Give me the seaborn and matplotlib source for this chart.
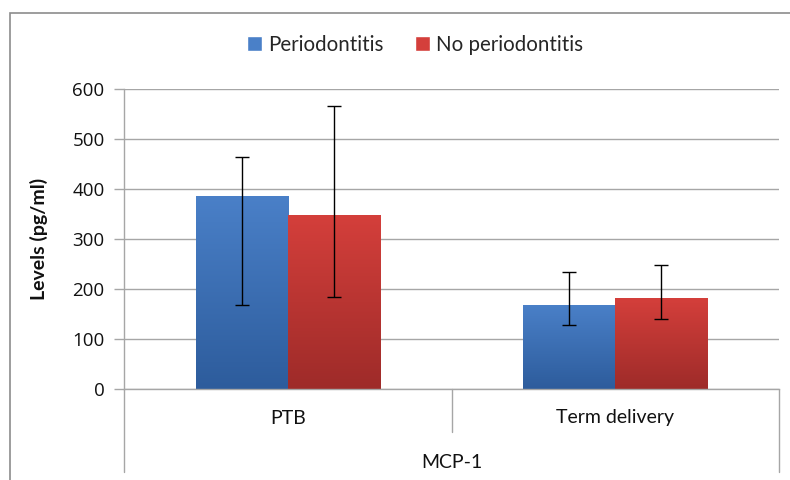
import numpy as np
import pandas as pd
import matplotlib
matplotlib.use("Agg")
import matplotlib.pyplot as plt
import seaborn as sns
from matplotlib.patches import Rectangle
from matplotlib.colors import LinearSegmentedColormap
from matplotlib.lines import Line2D

categories = ["PTB", "Term delivery"]
series = ["Periodontitis", "No periodontitis"]
means_perio = [387, 169]
means_noperio = [348, 182]
err_low_perio = [168, 129]
err_high_perio = [465, 234]
err_low_noperio = [185, 140]
err_high_noperio = [567, 248]
group_label = "MCP-1"
y_ticks = [0, 100, 200, 300, 400, 500, 600]

sns.set_theme(style="white")
plt.rcParams['font.family'] = ['Open Sans', 'DejaVu Sans']
calib = ['Lato', 'DejaVu Sans']

df = pd.DataFrame({
    "category": categories * 2,
    "series": [series[0]] * 2 + [series[1]] * 2,
    "value": means_perio + means_noperio,
})

W, H = 790, 480
fig = plt.figure(figsize=(W / 100, H / 100), dpi=100)
ax = fig.add_axes([124 / W, 1 - 389 / H, (779 - 124) / W, 300 / H])

top_colors = {"Periodontitis": "#4a80c8", "No periodontitis": "#d43f3b"}
bot_colors = {"Periodontitis": "#2d5c9c", "No periodontitis": "#9e2b29"}

sns.barplot(data=df, x="category", y="value", hue="series", order=categories,
            hue_order=series, palette=top_colors, width=0.562, gap=0,
            errorbar=None, ax=ax, legend=False, saturation=1)

ax.set_xlim(-0.5, 1.5)
ax.set_ylim(0, 600)
ax.set_yticks(y_ticks)

# gradient fills
for patch, s in zip(ax.patches, [series[0]] * 2 + [series[1]] * 2):
    x0, y0 = patch.get_x(), patch.get_y()
    w, h = patch.get_width(), patch.get_height()
    cmap = LinearSegmentedColormap.from_list("g", [bot_colors[s], top_colors[s]])
    grad = np.linspace(0, 1, 256).reshape(-1, 1)
    im = ax.imshow(grad, extent=[x0, x0 + w, y0, y0 + h], origin="lower",
                   aspect="auto", cmap=cmap, zorder=2)
    im.set_clip_path(patch)
    patch.set_edgecolor("none")
ax.set_xlim(-0.5, 1.5)
ax.set_ylim(0, 600)

# error bars
bar_patches = ax.patches
centers = [p.get_x() + p.get_width() / 2 for p in bar_patches]
means_all = means_perio + means_noperio
lows = err_low_perio + err_low_noperio
highs = err_high_perio + err_high_noperio
yerr = np.array([[m - l for m, l in zip(means_all, lows)],
                 [h - m for m, h in zip(means_all, highs)]])
ax.errorbar(centers, means_all, yerr=yerr, fmt="none", ecolor="black",
            elinewidth=1.0, capsize=5, capthick=1.0, zorder=4)

# grid & axes
ax.yaxis.grid(True, color="#a6a6a6", linewidth=1.0)
ax.set_axisbelow(True)
for side in ["top", "right"]:
    ax.spines[side].set_visible(False)
ax.spines["left"].set_color("#a6a6a6")
ax.spines["bottom"].set_color("#a6a6a6")
ax.spines["left"].set_linewidth(1.0)
ax.spines["bottom"].set_linewidth(1.0)
ax.tick_params(axis="y", which="both", left=True, length=7, width=1,
               color="#a6a6a6", labelsize=13.5, pad=7, labelcolor="#111111")
ax.tick_params(axis="x", bottom=False, labelbottom=False)
ax.set_xlabel("")
ax.set_ylabel("Levels (pg/ml)", fontsize=14, fontweight="bold",
              color="#111111", family=calib)
ax.yaxis.set_label_coords((48 - 124) / 655, 0.5)

# category axis lines and labels
trans = ax.get_xaxis_transform()
ax_h_px = 300.0
def yax(px):
    return -(px - 389) / ax_h_px
ax.add_line(Line2D([-0.5, -0.5], [0, yax(472)], transform=trans, color="#a6a6a6",
                   lw=1, clip_on=False))
ax.add_line(Line2D([1.5, 1.5], [0, yax(472)], transform=trans, color="#a6a6a6",
                   lw=1, clip_on=False))
ax.add_line(Line2D([0.5, 0.5], [0, yax(432)], transform=trans, color="#a6a6a6",
                   lw=1, clip_on=False))
for i, c in enumerate(categories):
    ax.text(i, yax(418), c, transform=trans, ha="center", va="center",
            fontsize=14, color="#111111", family=calib)
ax.text(0.5, yax(462), group_label, transform=trans, ha="center", va="center",
        fontsize=14, color="#111111", family=calib)

# legend
handles = [Rectangle((0, 0), 1, 1, facecolor=top_colors[s]) for s in series]
fig.legend(handles, series, loc="center", bbox_to_anchor=(415 / W, 1 - 45 / H),
           ncol=2, frameon=False, prop={'family': calib, 'size': 14.8},
           handlelength=0.75, handleheight=0.75,
           handletextpad=0.3, columnspacing=1.5)

# outer chart border
fig.add_artist(Rectangle((10 / W, -0.05), 1.0, 1 - 13 / H + 0.05,
                         transform=fig.transFigure, fill=False,
                         edgecolor="#8c8c8c", lw=1.2))

fig.savefig("out.png", dpi=100, facecolor="white")
